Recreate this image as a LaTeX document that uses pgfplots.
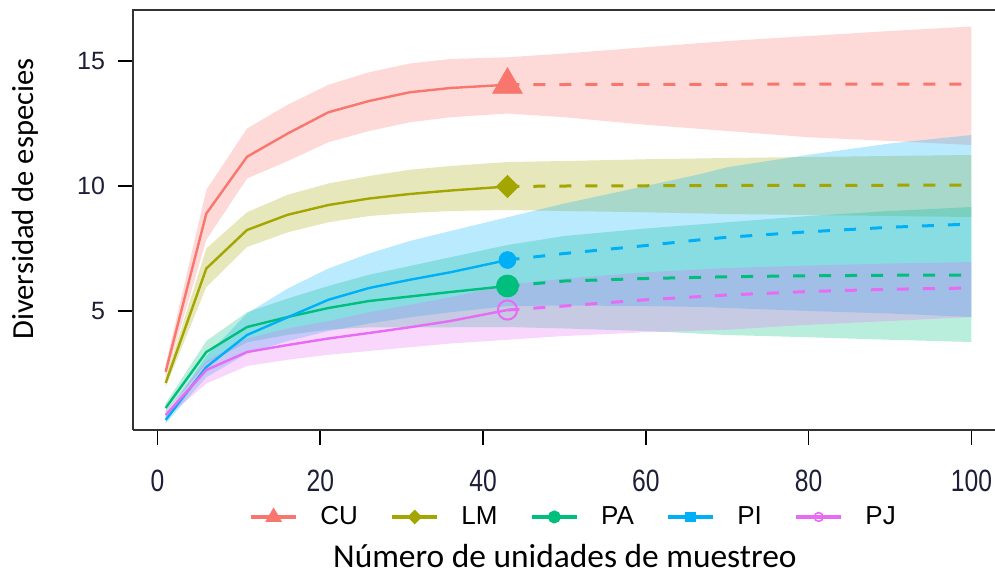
\documentclass[border=0pt]{standalone}
\usepackage{fontspec}
\setmainfont{Liberation Sans}
\newfontfamily\carlito{Carlito}
\newfontfamily\narrowfont[FakeStretch=0.8]{Liberation Sans}
\usepackage{pgfplots}
\pgfplotsset{compat=1.18}
\usepackage{pgfplotstable}
\usepgfplotslibrary{fillbetween}

\definecolor{cucol}{HTML}{F8766D}
\definecolor{lmcol}{HTML}{A3A500}
\definecolor{pacol}{HTML}{00BF7D}
\definecolor{picol}{HTML}{00B0F6}
\definecolor{pjcol}{HTML}{E76BF3}
\definecolor{tickcol}{HTML}{1E1E38}

\pgfplotstableread{
x y lo hi
1 2.57 2.30 2.85
6 8.90 7.85 9.85
11 11.17 10.30 12.30
16 12.10 11.00 13.25
21 12.95 11.75 14.05
26 13.40 12.20 14.55
31 13.75 12.55 14.90
36 13.92 12.75 15.08
43 14.05 12.90 15.15
50 14.06 12.75 15.30
60 14.07 12.45 15.55
70 14.07 12.20 15.80
80 14.08 11.95 16.00
90 14.08 11.80 16.20
100 14.08 11.64 16.38
}\cu

\pgfplotstableread{
x y lo hi
1 2.12 1.95 2.30
6 6.70 5.96 7.50
11 8.24 7.56 8.95
16 8.85 8.15 9.65
21 9.24 8.55 10.10
26 9.50 8.80 10.40
31 9.68 8.92 10.65
36 9.82 9.00 10.80
43 9.98 9.04 10.96
50 10.00 9.00 11.00
60 10.01 8.95 11.07
70 10.02 8.88 11.12
80 10.03 8.84 11.16
90 10.03 8.80 11.20
100 10.04 8.76 11.24
}\lm

\pgfplotstableread{
x y lo hi
1 1.12 0.95 1.30
6 3.36 2.90 3.80
11 4.36 3.75 4.95
16 4.76 4.05 5.50
21 5.12 4.25 6.00
26 5.40 4.35 6.45
31 5.58 4.35 6.80
36 5.76 4.35 7.15
43 6.00 4.36 7.64
50 6.20 4.30 8.00
60 6.30 4.20 8.30
70 6.37 4.04 8.55
80 6.41 3.95 8.80
90 6.43 3.85 9.00
100 6.44 3.76 9.16
}\pa

\pgfplotstableread{
x y lo hi
1 0.64 0.50 0.80
6 2.76 2.35 3.20
11 4.04 3.30 4.90
16 4.75 3.80 5.90
21 5.45 4.20 6.70
26 5.92 4.50 7.30
31 6.25 4.75 7.80
36 6.55 4.95 8.20
43 7.04 5.20 8.75
50 7.30 5.22 9.30
60 7.62 5.20 10.00
67 7.86 5.16 10.50
70 7.95 5.12 10.75
80 8.17 5.00 11.25
90 8.35 4.90 11.70
100 8.48 4.76 12.04
}\pi

\pgfplotstableread{
x y lo hi
1 0.84 0.70 1.00
6 2.64 2.10 3.00
11 3.36 2.80 3.90
16 3.64 3.05 4.30
21 3.90 3.25 4.60
26 4.12 3.40 4.95
31 4.35 3.55 5.25
36 4.60 3.70 5.55
43 5.04 3.85 6.05
50 5.20 4.00 6.30
60 5.45 4.15 6.55
70 5.64 4.25 6.72
80 5.78 4.45 6.82
90 5.87 4.60 6.90
100 5.92 4.76 6.96
}\pj

\begin{document}
\begin{tikzpicture}
\begin{axis}[
  at={(0,0)}, anchor=south west,
  scale only axis, width=431pt, height=210pt,
  xmin=-3.01, xmax=102.9, ymin=0.24, ymax=17.04,
  axis line style={draw=none},
  xtick={0,20,40,60,80,100},
  ytick={5,10,15},
  xtick pos=lower, ytick pos=left,
  tick align=outside,
  major tick length=7.5pt,
  tick style={black, line width=0.8pt},
  /pgf/number format/assume math mode=true,
  xticklabel style={font=\narrowfont\fontsize{15.4}{16}\selectfont, text=tickcol, yshift=-9pt},
  yticklabel style={font=\fontsize{12.5}{13}\selectfont, text=tickcol, xshift=-3pt},
  xlabel={Número de unidades de muestreo},
  xlabel style={font=\carlito\fontsize{16.7}{18}\selectfont, at={(axis description cs:0.501,-0.30)}, anchor=center},
  ylabel={Diversidad de especies},
  ylabel style={font=\carlito\fontsize{15.3}{17}\selectfont, at={(axis description cs:-0.1253,0.55)}, anchor=center},
  legend columns=5,
  legend style={draw=none, fill=none, at={(axis description cs:0.512,-0.207)}, anchor=center,
    font=\fontsize{13}{14}\selectfont,
    /tikz/every odd column/.append style={column sep=9pt},
    /tikz/every even column/.append style={column sep=14pt}},
  legend image code/.code={\draw[mark repeat=2,mark phase=2,#1] plot coordinates {(0cm,0cm) (0.4cm,0cm) (0.8cm,0cm)};},
  after end axis/.code={
    \draw[draw={rgb,255:red,51;green,51;blue,51}, line width=1.2pt] (rel axis cs:0,0) -- (rel axis cs:1,0);
    \draw[draw={rgb,255:red,51;green,51;blue,51}, line width=1.2pt] (rel axis cs:0,0) -- (rel axis cs:0,1) -- (rel axis cs:1,1);
  },
]

% ---- bands ----
\addplot[name path=cuhi, draw=none, forget plot] table[x=x,y=hi]{\cu};
\addplot[name path=culo, draw=none, forget plot] table[x=x,y=lo]{\cu};
\addplot[fill=cucol, fill opacity=0.27, draw=none, forget plot] fill between[of=cuhi and culo];

\addplot[name path=lmhi, draw=none, forget plot] table[x=x,y=hi]{\lm};
\addplot[name path=lmlo, draw=none, forget plot] table[x=x,y=lo]{\lm};
\addplot[fill=lmcol, fill opacity=0.27, draw=none, forget plot] fill between[of=lmhi and lmlo];

\addplot[name path=pahi, draw=none, forget plot] table[x=x,y=hi]{\pa};
\addplot[name path=palo, draw=none, forget plot] table[x=x,y=lo]{\pa};
\addplot[fill=pacol, fill opacity=0.27, draw=none, forget plot] fill between[of=pahi and palo];

\addplot[name path=pihi, draw=none, forget plot] table[x=x,y=hi]{\pi};
\addplot[name path=pilo, draw=none, forget plot] table[x=x,y=lo]{\pi};
\addplot[fill=picol, fill opacity=0.27, draw=none, forget plot] fill between[of=pihi and pilo];

\addplot[name path=pjhi, draw=none, forget plot] table[x=x,y=hi]{\pj};
\addplot[name path=pjlo, draw=none, forget plot] table[x=x,y=lo]{\pj};
\addplot[fill=pjcol, fill opacity=0.27, draw=none, forget plot] fill between[of=pjhi and pjlo];

% ---- lines ----
\pgfplotsset{
  interp/.style={line width=1.2pt, mark=none, forget plot, restrict x to domain=1:43},
  extrap/.style={line width=1.5pt, mark=none, forget plot, dash pattern=on 6pt off 7pt, restrict x to domain=43:100},
}
\addplot[cucol, interp] table[x=x,y=y]{\cu};
\addplot[cucol, extrap] table[x=x,y=y]{\cu};
\addplot[lmcol, interp] table[x=x,y=y]{\lm};
\addplot[lmcol, extrap] table[x=x,y=y]{\lm};
\addplot[pacol, interp] table[x=x,y=y]{\pa};
\addplot[pacol, extrap] table[x=x,y=y]{\pa};
\addplot[picol, interp] table[x=x,y=y]{\pi};
\addplot[picol, extrap] table[x=x,y=y]{\pi};
\addplot[pjcol, interp] table[x=x,y=y]{\pj};
\addplot[pjcol, extrap] table[x=x,y=y]{\pj};

% ---- observed points ----
\addplot[only marks, mark=triangle*, mark size=8.5pt, color=cucol, forget plot] coordinates {(43,14.05)};
\addplot[only marks, mark=square*, mark size=3.9pt, mark options={rotate=45}, color=lmcol, forget plot] coordinates {(43,9.98)};
\addplot[only marks, mark=*, mark size=5.5pt, color=pacol, forget plot] coordinates {(43,6.00)};
\addplot[only marks, mark=*, mark size=4.2pt, color=picol, forget plot] coordinates {(43,7.04)};
\addplot[only marks, mark=o, mark size=4.8pt, mark options={line width=1pt}, color=pjcol, forget plot] coordinates {(43,5.04)};

% ---- legend ----
\addlegendimage{cucol, line width=2pt, mark=triangle*, mark size=2.8pt}
\addlegendentry{CU}
\addlegendimage{lmcol, line width=2pt, mark=square*, mark size=1.6pt, mark options={rotate=45}}
\addlegendentry{LM}
\addlegendimage{pacol, line width=2pt, mark=*, mark size=2.2pt}
\addlegendentry{PA}
\addlegendimage{picol, line width=2pt, mark=square*, mark size=1.6pt}
\addlegendentry{PI}
\addlegendimage{pjcol, line width=2pt, mark=o, mark size=2.2pt, mark options={fill=white, line width=0.8pt}}
\addlegendentry{PJ}
\end{axis}
\pgfresetboundingbox
\path[use as bounding box] (-66.5pt,-72.5pt) rectangle (431pt,215pt);
\end{tikzpicture}
\end{document}
